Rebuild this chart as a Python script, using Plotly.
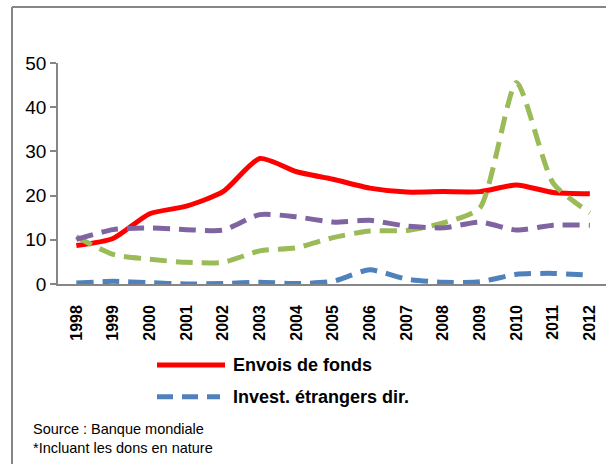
import plotly.graph_objects as go

years = [str(y) for y in range(1998, 2013)]
envois_de_fonds = [8.7, 10.3, 15.9, 17.6, 20.9, 28.4, 25.4, 23.7, 21.7, 20.8, 20.9, 20.9, 22.4, 20.7, 20.4]
invest_etrangers = [0.2, 0.6, 0.3, 0.0, 0.1, 0.4, 0.1, 0.6, 3.2, 1.1, 0.4, 0.5, 2.2, 2.4, 2.0]
aide_publique = [10.7, 6.7, 5.6, 4.9, 4.9, 7.5, 8.2, 10.5, 12.0, 12.1, 13.8, 17.2, 45.6, 22.8, 16.1]
exportations = [10.1, 12.3, 12.7, 12.3, 12.2, 15.7, 15.2, 14.0, 14.4, 13.1, 12.7, 14.0, 12.2, 13.3, 13.3]

y_ticks = [0, 10, 20, 30, 40, 50]

W, H = 606, 464
# plot area in page pixels
L, R, T, B = 58, 606, 62.7, 284.5


def px(x):
    return (x - L) / (R - L)


def py(y):
    return (B - y) / (B - T)


RED = "#FF0000"
BLUE = "#4F81BD"
GREEN = "#9BBB59"
PURPLE = "#8064A2"
GREY = "#868686"
DASH = "17px,9px"
FONT = "Liberation Sans, Arial, sans-serif"
SM = 0.6

fig = go.Figure()
fig.add_trace(go.Scatter(x=years, y=envois_de_fonds, name="Envois de fonds", mode="lines",
                         line=dict(color=RED, width=5, shape="spline", smoothing=SM), showlegend=False))
fig.add_trace(go.Scatter(x=years, y=invest_etrangers, name="Invest. étrangers dir.", mode="lines",
                         line=dict(color=BLUE, width=5, dash=DASH, shape="spline", smoothing=SM), showlegend=False))
fig.add_trace(go.Scatter(x=years, y=aide_publique, name="Aide publique au développement*", mode="lines",
                         line=dict(color=GREEN, width=5, dash=DASH, shape="spline", smoothing=SM), showlegend=False))
fig.add_trace(go.Scatter(x=years, y=exportations, name="Exportations", mode="lines",
                         line=dict(color=PURPLE, width=5, dash=DASH, shape="spline", smoothing=SM), showlegend=False))

shapes = [
    # chart border (top and left visible)
    dict(type="line", xref="paper", yref="paper", x0=px(12), x1=px(620), y0=py(6.5), y1=py(6.5),
         line=dict(color=GREY, width=2)),
    dict(type="line", xref="paper", yref="paper", x0=px(12), x1=px(12), y0=py(6.5), y1=py(470),
         line=dict(color=GREY, width=2)),
    # legend samples
    dict(type="line", xref="paper", yref="paper", x0=px(157), x1=px(225), y0=py(365.7), y1=py(365.7),
         line=dict(color=RED, width=5)),
    dict(type="line", xref="paper", yref="paper", x0=px(157), x1=px(220), y0=py(397.7), y1=py(397.7),
         line=dict(color=BLUE, width=5, dash="16px,9px")),
]

annotations = [
    dict(xref="paper", yref="paper", x=px(231), y=py(366), text="<b>Envois de fonds</b>", showarrow=False,
         xanchor="left", yanchor="middle", font=dict(size=18, color="black", family=FONT)),
    dict(xref="paper", yref="paper", x=px(231), y=py(398), text="<b>Invest. étrangers dir.</b>", showarrow=False,
         xanchor="left", yanchor="middle", font=dict(size=18, color="black", family=FONT)),
    dict(xref="paper", yref="paper", x=px(31), y=py(430), text="Source : Banque mondiale", showarrow=False,
         xanchor="left", yanchor="middle", font=dict(size=14.5, color="black", family=FONT)),
    dict(xref="paper", yref="paper", x=px(31), y=py(449), text="*Incluant les dons en nature", showarrow=False,
         xanchor="left", yanchor="middle", font=dict(size=14.5, color="black", family=FONT)),
]

fig.update_layout(
    width=W, height=H,
    margin=dict(l=L, r=W - R, t=T, b=H - B, pad=0),
    paper_bgcolor="white", plot_bgcolor="white",
    font=dict(family=FONT, color="black"),
    shapes=shapes, annotations=annotations,
    showlegend=False,
)
fig.update_xaxes(
    type="category", range=[-0.5, 14.44], showgrid=False, zeroline=False,
    showline=True, linecolor=GREY, linewidth=1.5,
    tickangle=-90, tickfont=dict(size=16, color="black", family=FONT),
    ticks="", ticklabelstandoff=13,
    tickvals=years, ticktext=[f"<b>{y}</b>" for y in years],
)
fig.update_yaxes(
    range=[0, 50], tickvals=y_ticks, showgrid=False, zeroline=False,
    showline=True, linecolor=GREY, linewidth=1.5,
    ticks="outside", ticklen=6, tickcolor=GREY, tickwidth=1.5,
    tickfont=dict(size=19, color="black", family=FONT),
)

fig.write_html("out.html", config={"displayModeBar": False},
               post_script="document.body.style.margin='0';document.body.style.overflow='hidden';")
